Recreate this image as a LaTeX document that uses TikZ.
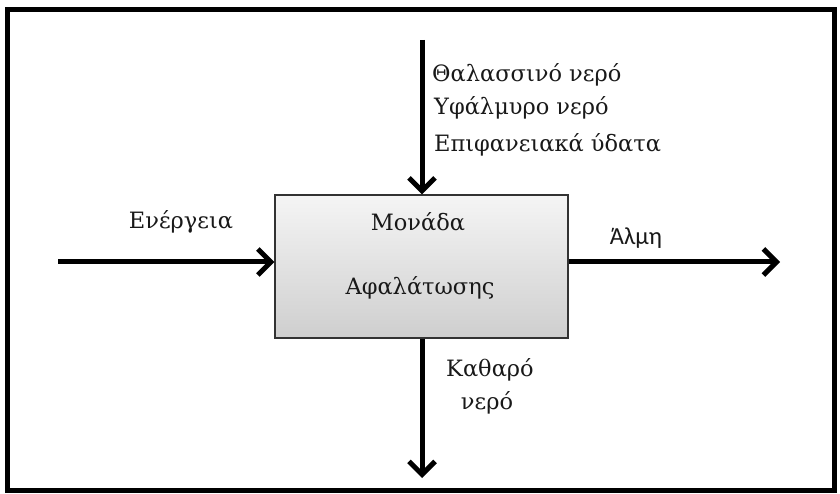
\documentclass[tikz,border=0pt]{standalone}
\usepackage{fontspec}
\setmainfont{DejaVu Serif}
\newfontfamily\almifont{Carlito}
\usetikzlibrary{arrows.meta}
\tikzset{
  flow/.style={line width=5pt,-{Straight Barb[length=13pt,width=26pt]}},
  unitbox/.style={draw=black!80,line width=1.2pt,top color=gray!8,bottom color=gray!38,
    minimum width=293pt,minimum height=143pt,inner sep=0pt},
  lbl/.style={font=\fontsize{22.5}{26}\selectfont,text=black!90,inner sep=0pt}
}
\begin{document}
\begin{tikzpicture}[x=1pt,y=-1pt]
  \useasboundingbox (0,0) rectangle (840,494);
  \draw[line width=5pt] (7,10) rectangle (834,490);

  % desalination unit
  \node[unitbox] (unit) at (421.5,266.5) {};
  \node[lbl] (mon) at (418,222) {Μονάδα};
  \node[lbl] (afal) at (420,288) {Αφαλάτωσης};

  % free ends of the flows
  \coordinate (enin) at (58,262);
  \coordinate (almout) at (780,262);
  \coordinate (srcin) at (422,40);
  \coordinate (wout) at (422,478);

  \draw[flow] (enin) -- (enin -| unit.west);
  \draw[flow] (almout -| unit.east) -- (almout);
  \draw[flow] (srcin) -- (srcin |- unit.north);
  \draw[flow] (wout |- unit.south) -- (wout);

  \node[lbl] (en) at (181,222) {Ενέργεια};
  \node[lbl,font=\almifont\fontsize{24.5}{28}\selectfont] (alm) at (636,238) {Άλμη};
  \node[lbl,anchor=west] (sea) at (432,75) {Θαλασσινό νερό};
  \node[lbl,anchor=west] (brack) at (434,108) {Υφάλμυρο νερό};
  \node[lbl,anchor=west] (surf) at (434,145) {Επιφανειακά ύδατα};
  \node[lbl] (clean) at (490,370) {Καθαρό};
  \node[lbl] (cleanw) at (487,403) {νερό};
\end{tikzpicture}
\end{document}
